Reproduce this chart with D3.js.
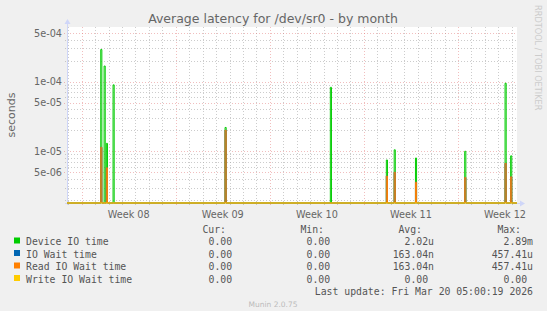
<!DOCTYPE html>
<html>
<head>
<meta charset="utf-8">
<script src="https://cdn.jsdelivr.net/npm/d3@7"></script>
<style>
  body { margin: 0; background: #f0f0f0; }
  svg text { font-family: "DejaVu Sans", sans-serif; }
  .mono { font-family: "DejaVu Sans Mono", monospace; white-space: pre; }
</style>
</head>
<body>
<div id="chart"></div>
<script>
var width = 547, height = 311;
var plotLeft = 67, plotRight = 517, plotTop = 27, plotBottom = 203;

// time window of the graph and the week grid
var timeRange   = ["2026-02-14T21:45:00Z", "2026-03-20T09:20:00Z"];
var weekStarts  = ["2026-02-16", "2026-02-23", "2026-03-02", "2026-03-09", "2026-03-16"];
var weekLabels  = ["Week 08", "Week 09", "Week 10", "Week 11", "Week 12"];

// log y axis
var yDomain     = [1.807e-6, 6.11e-4];
var yTickValues = [5e-4, 1e-4, 5e-5, 1e-5, 5e-6];
var yTickLabels = ["5e-04", "1e-04", "5e-05", "1e-05", "5e-06"];

// spikes: [start of 2h sample, seconds]; everything else is 0
var deviceIO = [
  ["2026-02-17T10:00:00Z", 2.9e-4],
  ["2026-02-17T16:00:00Z", 1.68e-4],
  ["2026-02-17T20:00:00Z", 1.3e-5],
  ["2026-02-18T08:00:00Z", 9.0e-5],
  ["2026-02-26T16:00:00Z", 2.2e-5],
  ["2026-03-06T12:00:00Z", 8.3e-5],
  ["2026-03-10T16:00:00Z", 7.5e-6],
  ["2026-03-11T06:00:00Z", 1.05e-5],
  ["2026-03-12T20:00:00Z", 8.0e-6],
  ["2026-03-16T12:00:00Z", 1.0e-5],
  ["2026-03-19T12:00:00Z", 9.5e-5],
  ["2026-03-19T22:00:00Z", 8.6e-6]
];
var ioWait = [
  ["2026-02-17T10:00:00Z", 1.14e-5],
  ["2026-02-17T20:00:00Z", 5.8e-6],
  ["2026-02-26T16:00:00Z", 2.0e-5],
  ["2026-03-10T16:00:00Z", 4.4e-6],
  ["2026-03-11T06:00:00Z", 5.0e-6],
  ["2026-03-12T20:00:00Z", 3.6e-6],
  ["2026-03-16T12:00:00Z", 4.2e-6],
  ["2026-03-19T12:00:00Z", 6.7e-6],
  ["2026-03-19T22:00:00Z", 4.3e-6]
];
var readIOWait = [
  ["2026-02-17T10:00:00Z", 1.14e-5],
  ["2026-02-17T20:00:00Z", 5.8e-6],
  ["2026-02-26T16:00:00Z", 2.0e-5],
  ["2026-03-10T16:00:00Z", 4.4e-6],
  ["2026-03-11T06:00:00Z", 5.0e-6],
  ["2026-03-12T20:00:00Z", 3.6e-6],
  ["2026-03-16T12:00:00Z", 4.2e-6],
  ["2026-03-19T12:00:00Z", 6.7e-6],
  ["2026-03-19T22:00:00Z", 4.3e-6]
];
var writeIOWait = [];

var seriesNames  = ["Device IO time", "IO Wait time", "Read IO Wait time", "Write IO Wait time"];
var seriesColors = ["#00cc00", "#0066b3", "#ff8000", "#ffcc00"];
var curValues = ["0.00 ", "0.00 ", "0.00 ", "0.00 "];
var minValues = ["0.00 ", "0.00 ", "0.00 ", "0.00 "];
var avgValues = ["2.02u", "163.04n", "163.04n", "0.00 "];
var maxValues = ["2.89m", "457.41u", "457.41u", "0.00 "];

var svg = d3.select("#chart").append("svg")
    .attr("width", width)
    .attr("height", height)
    .style("display", "block")
    .style("background", "#f0f0f0");

var x = d3.scaleUtc()
    .domain(timeRange.map(function(d) { return new Date(d); }))
    .range([plotLeft, plotRight]);
var y = d3.scaleLog()
    .domain(yDomain)
    .range([plotBottom, plotTop]);

function yPos(v) { return v <= yDomain[0] ? plotBottom : y(v); }

// canvas
svg.append("rect")
   .attr("x", plotLeft).attr("y", plotTop)
   .attr("width", plotRight - plotLeft).attr("height", plotBottom - plotTop)
   .attr("fill", "#ffffff");

var grid = svg.append("g");
var minorColor = "rgba(170,170,170,0.6)";
var majorColor = "rgba(225,110,110,0.45)";

// minor horizontal grid (2..9 of every decade)
var minorY = [];
[-6, -5, -4].forEach(function(e) {
  d3.range(2, 10).forEach(function(m) {
    var v = m * Math.pow(10, e);
    if (m !== 5 && y(v) > plotTop + 1 && y(v) < plotBottom) minorY.push(v);
  });
});
grid.selectAll(".ymin").data(minorY).enter().append("line")
    .attr("x1", plotLeft - 2).attr("x2", plotRight)
    .attr("y1", function(d) { return Math.round(y(d)) + 0.5; })
    .attr("y2", function(d) { return Math.round(y(d)) + 0.5; })
    .attr("stroke", minorColor)
    .attr("stroke-dasharray", "1,2");

// minor vertical grid, one per day
var days = d3.utcDay.range(x.domain()[0], x.domain()[1]).filter(function(d) {
  return x(d) > plotLeft + 1 && d.getUTCDay() !== 1;
});
grid.selectAll(".xmin").data(days).enter().append("line")
    .attr("x1", function(d) { return Math.round(x(d)) + 0.5; })
    .attr("x2", function(d) { return Math.round(x(d)) + 0.5; })
    .attr("y1", plotTop).attr("y2", plotBottom + 2)
    .attr("stroke", minorColor)
    .attr("stroke-dasharray", "1,2");

// major grids
grid.selectAll(".ymaj").data(yTickValues).enter().append("line")
    .attr("x1", plotLeft - 3).attr("x2", plotRight)
    .attr("y1", function(d) { return Math.round(y(d)) + 0.5; })
    .attr("y2", function(d) { return Math.round(y(d)) + 0.5; })
    .attr("stroke", majorColor)
    .attr("stroke-dasharray", "1,2");

grid.selectAll(".xmaj").data(weekStarts).enter().append("line")
    .attr("x1", function(d) { return Math.round(x(new Date(d))) + 0.5; })
    .attr("x2", function(d) { return Math.round(x(new Date(d))) + 0.5; })
    .attr("y1", plotTop).attr("y2", plotBottom + 3)
    .attr("stroke", majorColor)
    .attr("stroke-dasharray", "1,2");

// axis lines and arrows
svg.append("line")
   .attr("x1", plotLeft + 0.5).attr("x2", plotLeft + 0.5)
   .attr("y1", plotBottom + 2).attr("y2", plotTop - 4)
   .attr("stroke", "#cfd6f8");
svg.append("path")
   .attr("d", "M" + (plotLeft - 2.5) + "," + (plotTop - 3) + "L" + (plotLeft + 0.5) + "," + (plotTop - 8) + "L" + (plotLeft + 3.5) + "," + (plotTop - 3) + "Z")
   .attr("fill", "#cfd6f8");
svg.append("line")
   .attr("x1", plotLeft - 2).attr("x2", plotRight + 4)
   .attr("y1", plotBottom + 0.5).attr("y2", plotBottom + 0.5)
   .attr("stroke", "#cfd6f8");
svg.append("path")
   .attr("d", "M" + (plotRight + 3) + "," + (plotBottom - 2.5) + "L" + (plotRight + 8) + "," + (plotBottom + 0.5) + "L" + (plotRight + 3) + "," + (plotBottom + 3.5) + "Z")
   .attr("fill", "#cfd6f8");

// y labels
svg.selectAll(".ylab").data(yTickValues).enter().append("text")
   .attr("x", plotLeft - 5)
   .attr("y", function(d) { return y(d) + 3.5; })
   .attr("text-anchor", "end")
   .attr("font-size", "9.7px")
   .attr("fill", "#666666")
   .text(function(d, i) { return yTickLabels[i]; });

// x labels, centred in each week
svg.selectAll(".xlab").data(weekStarts).enter().append("text")
   .attr("x", function(d) { return x(d3.utcHour.offset(new Date(d), 84)); })
   .attr("y", plotBottom + 15)
   .attr("text-anchor", "middle")
   .attr("font-size", "9.7px")
   .attr("fill", "#666666")
   .text(function(d, i) { return weekLabels[i]; });

// series as step lines
function stepPoints(spikes) {
  var pts = [[x.domain()[0], 0]];
  spikes.forEach(function(s) {
    var t = new Date(s[0]);
    pts.push([t, 0]);
    pts.push([t, s[1]]);
    pts.push([d3.utcHour.offset(t, 2), 0]);
  });
  pts.push([x.domain()[1], 0]);
  return pts;
}
var line = d3.line()
    .x(function(d) { return x(d[0]); })
    .y(function(d) { return yPos(d[1]); })
    .curve(d3.curveStepAfter);

[deviceIO, ioWait, readIOWait, writeIOWait].forEach(function(s, i) {
  svg.append("path")
     .attr("d", line(stepPoints(s)))
     .attr("fill", "none")
     .attr("stroke", seriesColors[i])
     .attr("stroke-width", 1);
});

// title and labels
svg.append("text")
   .attr("x", 273).attr("y", 23)
   .attr("text-anchor", "middle")
   .attr("font-size", "12.5px")
   .attr("fill", "#666666")
   .text("Average latency for /dev/sr0 - by month");

svg.append("text")
   .attr("transform", "translate(15," + (plotTop + plotBottom) / 2 + ") rotate(-90)")
   .attr("text-anchor", "middle")
   .attr("font-size", "11px")
   .attr("fill", "#666666")
   .text("seconds");

svg.append("text")
   .attr("transform", "translate(535,5) rotate(90)")
   .attr("font-size", "8.2px")
   .attr("fill", "#cccccc")
   .text("RRDTOOL / TOBI OETIKER");

// legend
var legend = svg.append("g").attr("class", "mono").attr("font-size", "9.8px").attr("fill", "#555555");
var headers = ["Cur:", "Min:", "Avg:", "Max:"];
var colRight = [238, 336, 434, 533];
headers.forEach(function(h, i) {
  legend.append("text").attr("class", "mono")
        .attr("x", colRight[i] - 12).attr("y", 233)
        .attr("text-anchor", "end").text(h);
});
seriesNames.forEach(function(name, i) {
  var yy = 245 + i * 12.5;
  svg.append("rect")
     .attr("x", 14).attr("y", yy - 7.5).attr("width", 6).attr("height", 6)
     .attr("fill", seriesColors[i]);
  legend.append("text").attr("class", "mono").attr("x", 26).attr("y", yy).text(name);
  [curValues, minValues, avgValues, maxValues].forEach(function(col, j) {
    legend.append("text").attr("class", "mono")
          .attr("x", colRight[j]).attr("y", yy)
          .attr("text-anchor", "end").text(col[i]);
  });
});
legend.append("text").attr("class", "mono")
      .attr("x", 533).attr("y", 295)
      .attr("text-anchor", "end")
      .text("Last update: Fri Mar 20 05:00:19 2026");

svg.append("text")
   .attr("x", 273).attr("y", 307)
   .attr("text-anchor", "middle")
   .attr("font-size", "7.5px")
   .attr("fill", "#bbbbbb")
   .text("Munin 2.0.75");
</script>
</body>
</html>
